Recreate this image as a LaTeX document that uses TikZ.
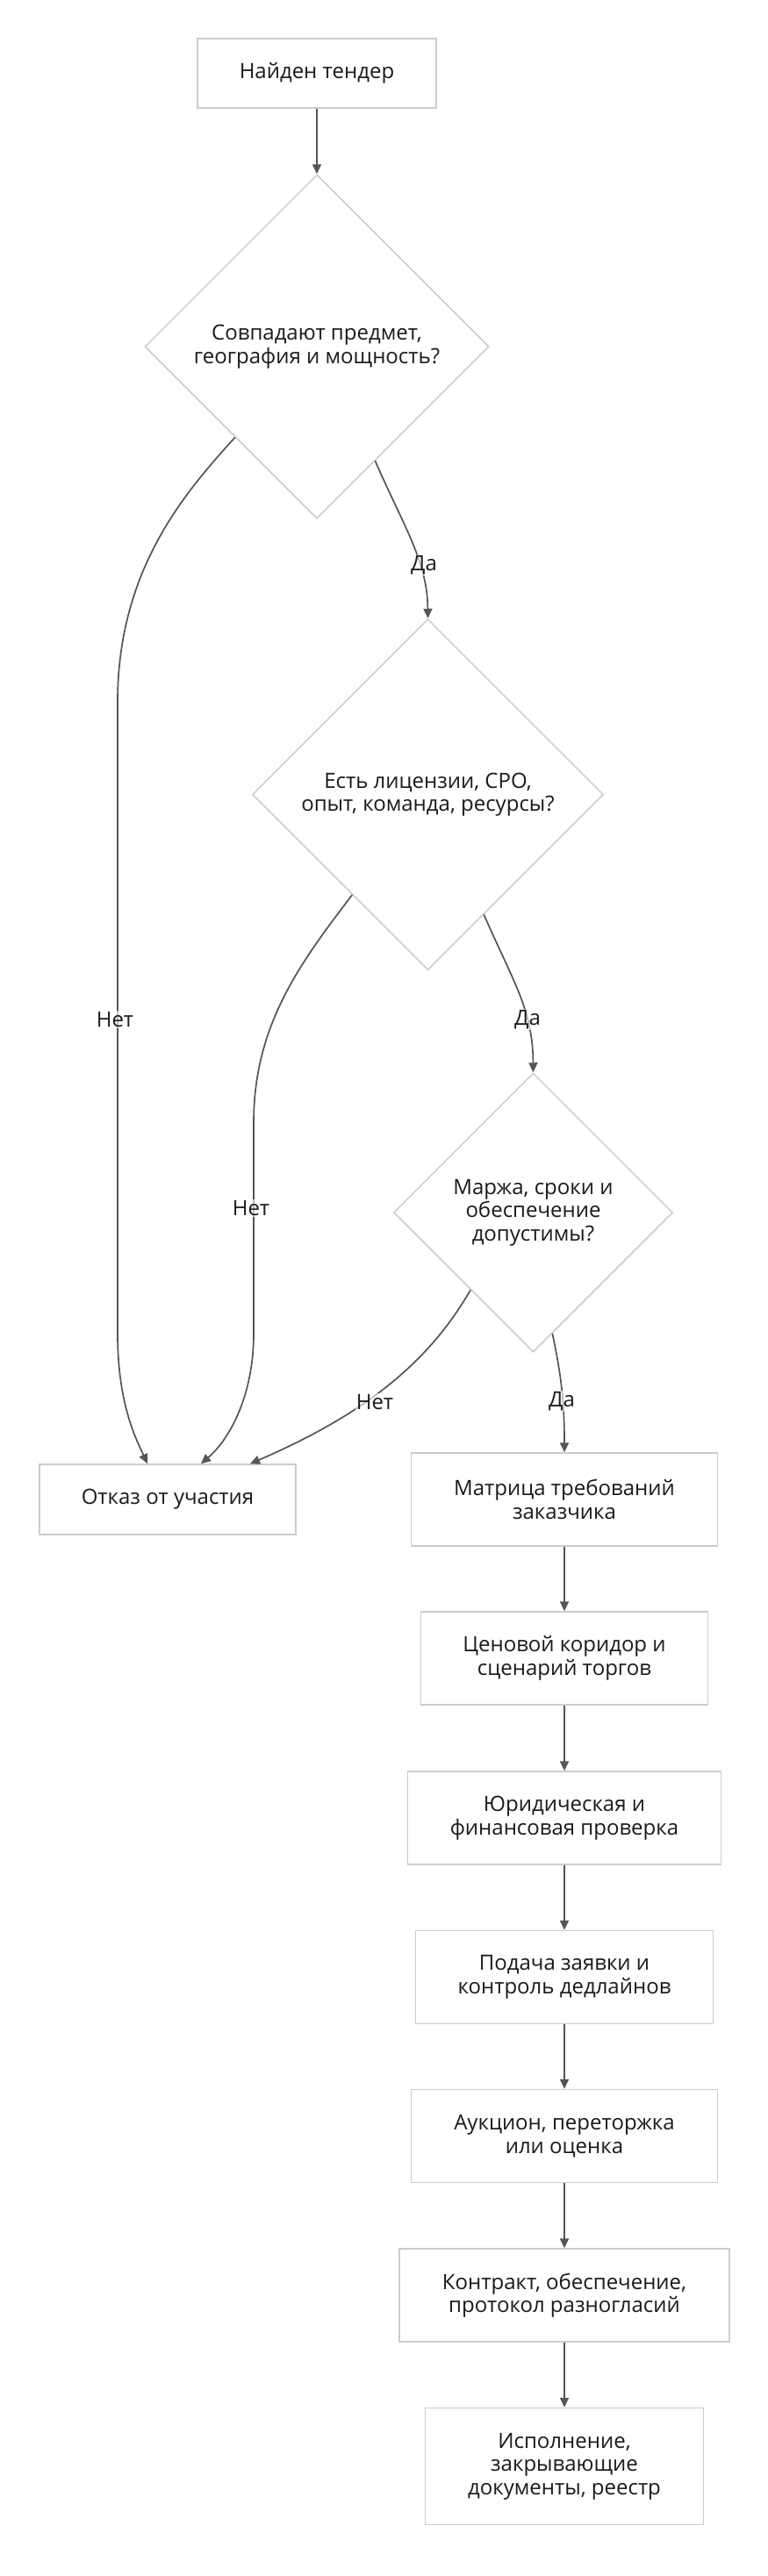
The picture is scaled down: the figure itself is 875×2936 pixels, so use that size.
\documentclass[tikz,border=0pt]{standalone}
\usepackage{fontspec}
\setmainfont{Open Sans}
\usetikzlibrary{shapes.geometric,arrows.meta,calc}
\definecolor{edgec}{HTML}{555555}
\definecolor{boxc}{HTML}{CCCCCC}
\definecolor{txt}{HTML}{1A1A1A}
\tikzset{
 base/.style={font=\fontsize{24}{26.5}\selectfont, text=txt, align=center, inner sep=0pt},
 proc/.style={base, draw=boxc, line width=1.5pt, fill=white, rectangle},
 dec/.style={base, draw=boxc, line width=1.5pt, fill=white, diamond, aspect=1},
 conn/.style={draw=edgec, line width=1.7pt, -{Triangle[length=11pt,width=10pt]}},
 lbl/.style={base, fill=white, fill opacity=0.6, text opacity=1, inner sep=1pt},
}
\begin{document}
\begin{tikzpicture}[x=1pt,y=-1pt]
\useasboundingbox[fill=white] (0,0) rectangle (875,2936);

\node[proc, minimum width=272pt, minimum height=79pt] (start) at (361,83.5) {Найден тендер};
\node[dec, minimum width=392pt, minimum height=392pt] (d1) at (361,395) {Совпадают предмет,\\география и мощность?};
\node[dec, minimum width=400pt, minimum height=400pt] (d2) at (487.5,905.5) {Есть лицензии, СРО,\\опыт, команда, ресурсы?};
\node[dec, minimum width=318pt, minimum height=318pt] (d3) at (607.5,1382) {Маржа, сроки и\\обеспечение\\допустимы?};
\node[proc, minimum width=292pt, minimum height=80pt] (otk) at (191,1709) {Отказ от участия};
\node[proc, minimum width=349pt, minimum height=106pt] (m1) at (643,1709) {Матрица требований\\заказчика};
\node[proc, minimum width=327pt, minimum height=106pt] (m2) at (643,1890) {Ценовой коридор и\\сценарий торгов};
\node[proc, minimum width=357pt, minimum height=106pt] (m3) at (643,2072) {Юридическая и\\финансовая проверка};
\node[proc, minimum width=339pt, minimum height=106pt] (m4) at (643,2253.5) {Подача заявки и\\контроль дедлайнов};
\node[proc, minimum width=349pt, minimum height=106pt] (m5) at (643,2434.5) {Аукцион, переторжка\\или оценка};
\node[proc, minimum width=376pt, minimum height=106pt] (m6) at (643,2616) {Контракт, обеспечение,\\протокол разногласий};
\node[proc, minimum width=317pt, minimum height=133pt] (m7) at (643,2811) {Исполнение,\\закрывающие\\документы, реестр};

\draw[conn] (start.south) -- (d1.north);
\draw[conn] (d1.-63) .. controls (460,600) and (487,640) .. (d2.north);
\draw[conn] (d1.-132) .. controls (210,562) and (134,650) .. (134,800) -- (134,1520) .. controls (134,1600) and (155,1640) .. ($(otk.north)+(-23,0)$);
\draw[conn] (d2.-127) .. controls (340,1100) and (289,1170) .. (289,1280) -- (289,1520) .. controls (289,1590) and (262,1640) .. ($(otk.north)+(38,0)$);
\draw[conn] (d2.-65) .. controls (585,1120) and (607,1150) .. (d3.north);
\draw[conn] (d3.-129) .. controls (490,1550) and (420,1610) .. ($(otk.north)+(94,0)$);
\draw[conn] (d3.-81) .. controls (640,1570) and (643,1600) .. (m1.north);
\draw[conn] (m1.south) -- (m2.north);
\draw[conn] (m2.south) -- (m3.north);
\draw[conn] (m3.south) -- (m4.north);
\draw[conn] (m4.south) -- (m5.north);
\draw[conn] (m5.south) -- (m6.north);
\draw[conn] (m6.south) -- (m7.north);

\node[lbl] (l1) at (483,644) {Да};
\node[lbl] (l2) at (131,1162) {Нет};
\node[lbl] (l3) at (601,1162) {Да};
\node[lbl] (l4) at (286,1377) {Нет};
\node[lbl] (l5) at (427,1598) {Нет};
\node[lbl] (l6) at (640,1597) {Да};
\end{tikzpicture}
\end{document}
